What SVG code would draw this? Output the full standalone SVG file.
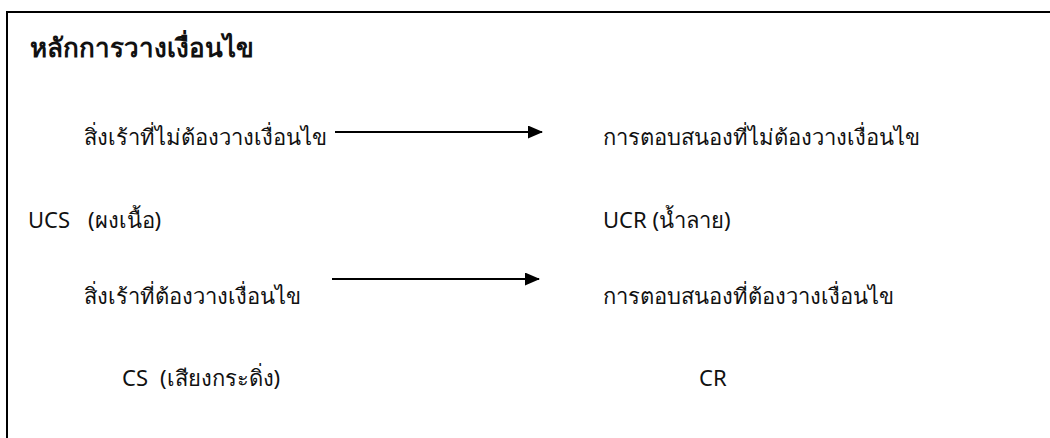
<svg xmlns="http://www.w3.org/2000/svg" width="1050" height="438" viewBox="0 0 1050 438">
<style>
text{font-family:"Noto Sans","Liberation Sans",sans-serif;font-size:22px;fill:#111}
.title{font-weight:bold;font-size:26px}
.conn{stroke:#000;stroke-width:1.8;fill:none}
</style>
<defs>
<marker id="ah" markerWidth="15" markerHeight="13" refX="14" refY="6.5" orient="auto" markerUnits="userSpaceOnUse" viewBox="0 0 15 13">
<path d="M0,0 L15,6.5 L0,13 z" fill="#000"/>
</marker>
</defs>
<rect width="1050" height="438" fill="#fff"/>
<g id="frame">
<path d="M7,438 V12 H1050" stroke="#000" stroke-width="2" fill="none"/>
</g>
<g id="title"><text class="title" x="30" y="57">หลักการวางเงื่อนไข</text></g>
<g id="ucs-label"><text x="84" y="145">สิ่งเร้าที่ไม่ต้องวางเงื่อนไข</text></g>
<g id="ucr-label"><text x="603" y="145">การตอบสนองที่ไม่ต้องวางเงื่อนไข</text></g>
<g id="ucs"><text x="28" y="228">UCS <tspan x="88">(ผงเนื้อ)</tspan></text></g>
<g id="ucr"><text x="603" y="228">UCR (น้ำลาย)</text></g>
<g id="cs-label"><text x="84" y="304">สิ่งเร้าที่ต้องวางเงื่อนไข</text></g>
<g id="cr-label"><text x="603" y="304">การตอบสนองที่ต้องวางเงื่อนไข</text></g>
<g id="cs"><text x="122" y="386">CS <tspan x="160">(เสียงกระดิ่ง)</tspan></text></g>
<g id="cr"><text x="699" y="386">CR</text></g>
<g id="connectors">
<line class="conn" x1="335" y1="132" x2="542" y2="132" marker-end="url(#ah)"/>
<line class="conn" x1="332" y1="279" x2="539" y2="279" marker-end="url(#ah)"/>
</g>
</svg>
